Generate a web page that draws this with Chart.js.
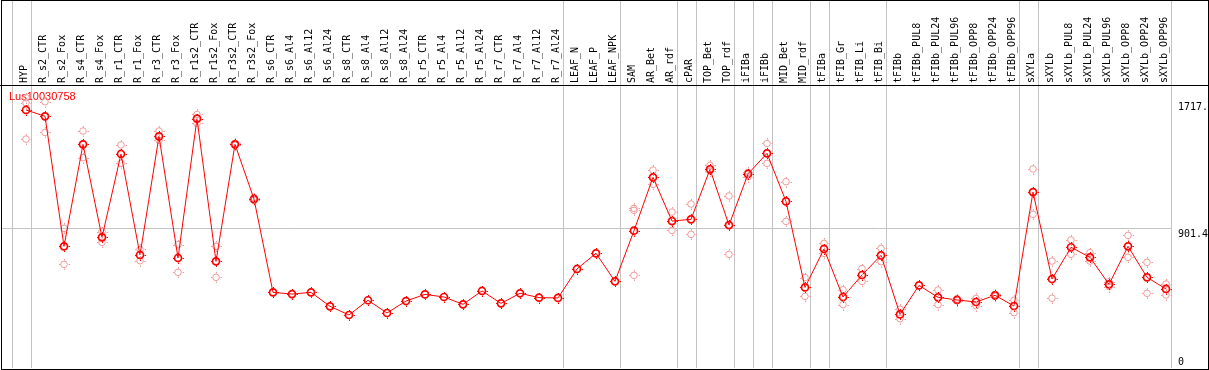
<!DOCTYPE html>
<html>
<head>
<meta charset="utf-8">
<script src="https://cdn.jsdelivr.net/npm/chart.js@4.4.1/dist/chart.umd.min.js"></script>
<style>
  html, body { margin: 0; padding: 0; background: #fff; }
</style>
</head>
<body>
<canvas id="grafico" width="1209" height="370"></canvas>
<script>
const categorias = [
  'HYP', 'R_s2_CTR', 'R_s2_Fox', 'R_s4_CTR', 'R_s4_Fox', 'R_r1_CTR', 'R_r1_Fox', 'R_r3_CTR', 'R_r3_Fox',
  'R_r1s2_CTR', 'R_r1s2_Fox', 'R_r3s2_CTR', 'R_r3s2_Fox', 'R_s6_CTR', 'R_s6_Al4', 'R_s6_Al12', 'R_s6_Al24',
  'R_s8_CTR', 'R_s8_Al4', 'R_s8_Al12', 'R_s8_Al24', 'R_r5_CTR', 'R_r5_Al4', 'R_r5_Al12', 'R_r5_Al24',
  'R_r7_CTR', 'R_r7_Al4', 'R_r7_Al12', 'R_r7_Al24', 'LEAF_N', 'LEAF_P', 'LEAF_NPK', 'SAM', 'AR_Bet', 'AR_rdf',
  'cPAR', 'TOP_Bet', 'TOP_rdf', 'iFIBa', 'iFIBb', 'MID_Bet', 'MID_rdf', 'tFIBa', 'tFIB_Gr', 'tFIB_Li', 'tFIB_Bi',
  'tFIBb', 'tFIBb_PUL8', 'tFIBb_PUL24', 'tFIBb_PUL96', 'tFIBb_OPP8', 'tFIBb_OPP24', 'tFIBb_OPP96',
  'sXYLa', 'sXYLb', 'sXYLb_PUL8', 'sXYLb_PUL24', 'sXYLb_PUL96', 'sXYLb_OPP8', 'sXYLb_OPP24', 'sXYLb_OPP96'
];

// media por muestra
const valores = [
  1665, 1624, 785, 1443, 843, 1381, 729, 1495, 710,
  1609, 688, 1443, 1090, 488, 477, 488, 398,
  342, 437, 355, 432, 475, 458, 411, 497,
  417, 482, 454, 452, 639, 740, 559, 886, 1230, 948,
  959, 1282, 922, 1252, 1385, 1075, 520, 768, 458, 600, 727,
  346, 533, 456, 439, 426, 469, 400,
  1135, 574, 779, 714, 540, 785, 585, 510
];

// replicas
const replica1 = [
  1744, 1718, 901, 1529, 880, 1439, 765, 1529, 796,
  1636, 785, 1450, 1100, null, null, null, null,
  null, null, null, null, null, null, null, null,
  null, null, null, null, null, null, null, 1030, 1277, 1006,
  1058, 1307, 1110, 1262, 1449, 1202, 583, 804, 505, 641, 772,
  379, null, 503, 445, 449, 475, 437,
  1284, 690, 826, 744, 557, 856, 682, 542
];
const replica2 = [
  1477, 1520, 669, 1357, 811, 1320, 692, 1469, 617,
  1578, 585, 1437, 1082, null, null, null, null,
  null, null, null, null, null, null, null, null,
  null, null, null, null, null, null, null, 598, 1185, 888,
  862, 1271, 733, 1234, 1320, 946, 462, 740, 409, 559, 686,
  318, null, 409, 435, 402, 462, 357,
  991, 450, 733, 690, 525, 714, 482, 471
];
const replica3 = [
  1710, null, null, null, null, null, null, null, null,
  null, null, null, null, null, null, null, null,
  null, null, null, null, null, null, null, null,
  null, null, null, null, null, null, null, 1017, null, null,
  null, null, null, null, null, null, null, null, null, null, null,
  null, null, null, null, null, null, null,
  null, null, null, null, null, null, null, null
];

const ticksY = [0, 901.4, 1717];
const etiquetasY = ['0', '901.4', '1717.'];
// indices tras los que va una linea separadora
const cortes = [-1, 0, 28, 31, 34, 35, 37, 38, 39, 41, 42, 45, 52, 53, 60];
const nombreSerie = 'Lus10030758';

const sinPadding = (s) => {
  s.paddingLeft = 0; s.paddingRight = 0; s.paddingTop = 0; s.paddingBottom = 0;
};

const marco = {
  id: 'marco',
  beforeDatasetsDraw(chart) {
    const ctx = chart.ctx;
    const x = chart.scales.x;
    const area = chart.chartArea;
    ctx.save();
    ctx.strokeStyle = '#c4c4c4';
    ctx.lineWidth = 1;
    cortes.forEach(i => {
      const px = Math.round(x.getPixelForValue(i + 0.25)) + 0.5;
      ctx.beginPath();
      ctx.moveTo(px, 0);
      ctx.lineTo(px, area.bottom);
      ctx.stroke();
    });
    ctx.fillStyle = '#ff0000';
    ctx.font = '11px "Liberation Sans", Arial, sans-serif';
    ctx.textBaseline = 'middle';
    ctx.fillText(nombreSerie, 9, area.top + 12);
    ctx.restore();
  },
  afterDatasetsDraw(chart) {
    // pequenas marcas alrededor de cada circulo
    const ctx = chart.ctx;
    ctx.save();
    ctx.lineWidth = 1;
    for (let d = chart.data.datasets.length - 1; d >= 0; d--) {
      const ds = chart.data.datasets[d];
      const r = Math.round(ds.pointRadius + 0.5);
      ctx.strokeStyle = ds.pointBorderColor;
      chart.getDatasetMeta(d).data.forEach(p => {
        if (p.skip) return;
        const cx = Math.round(p.x) + 0.5;
        const cy = Math.round(p.y) + 0.5;
        ctx.beginPath();
        ctx.moveTo(cx, cy - r); ctx.lineTo(cx, cy - r - 1.5);
        ctx.moveTo(cx, cy + r); ctx.lineTo(cx, cy + r + 1.5);
        ctx.moveTo(cx - r, cy); ctx.lineTo(cx - r - 1.5, cy);
        ctx.moveTo(cx + r, cy); ctx.lineTo(cx + r + 1.5, cy);
        ctx.stroke();
      });
    }
    ctx.restore();
  },
  afterDraw(chart) {
    const ctx = chart.ctx;
    ctx.save();
    ctx.strokeStyle = '#000';
    ctx.lineWidth = 1;
    ctx.strokeRect(1.5, 0.5, chart.width - 2, chart.height - 1);
    ctx.beginPath();
    ctx.moveTo(0, chart.chartArea.top + 0.5);
    ctx.lineTo(chart.width, chart.chartArea.top + 0.5);
    ctx.stroke();
    ctx.restore();
  }
};

const etiquetas = categorias.map((c, i) => i);

function serieReplica(nombre, datos) {
  return {
    label: nombre,
    data: datos,
    showLine: false,
    pointStyle: 'circle',
    pointRadius: 3.3,
    pointBorderWidth: 1,
    pointBorderColor: '#f09a9a',
    pointBackgroundColor: 'rgba(0,0,0,0)'
  };
}

new Chart(document.getElementById('grafico').getContext('2d'), {
  type: 'line',
  data: {
    labels: etiquetas,
    datasets: [
      {
        label: nombreSerie,
        data: valores,
        borderColor: '#ff0000',
        borderWidth: 1,
        pointStyle: 'circle',
        pointRadius: 3.5,
        pointBorderWidth: 1.7,
        pointBorderColor: '#ff0000',
        pointBackgroundColor: 'rgba(0,0,0,0)',
        tension: 0,
        fill: false
      },
      serieReplica('r1', replica1),
      serieReplica('r2', replica2),
      serieReplica('r3', replica3)
    ]
  },
  options: {
    responsive: false,
    animation: false,
    devicePixelRatio: 1,
    layout: { autoPadding: false, padding: { left: 1, right: 0, top: 0, bottom: 2 } },
    plugins: {
      legend: { display: false },
      tooltip: { enabled: false }
    },
    scales: {
      x: {
        type: 'linear',
        position: 'top',
        min: -1.3158,
        max: 60.263,
        afterBuildTicks: (s) => { s.ticks = etiquetas.map(v => ({ value: v })); },
        afterFit: (s) => { s.height = 85; sinPadding(s); },
        grid: { display: false, drawTicks: false },
        border: { display: false },
        ticks: {
          autoSkip: false,
          minRotation: 90,
          maxRotation: 90,
          padding: 2,
          labelOffset: 10.5,
          color: '#000',
          font: { family: '"DejaVu Sans Mono", monospace', size: 10 },
          callback: (v) => categorias[v]
        }
      },
      y: {
        position: 'right',
        min: 0,
        max: 1826,
        afterBuildTicks: (s) => { s.ticks = ticksY.map(v => ({ value: v })); },
        afterFit: (s) => { s.width = 38; sinPadding(s); },
        grid: {
          drawTicks: false,
          color: (c) => (c.tick && c.tick.value === 901.4) ? '#c4c4c4' : 'rgba(0,0,0,0)'
        },
        border: { display: false },
        ticks: {
          padding: 7,
          color: '#000',
          font: { family: '"DejaVu Sans Mono", monospace', size: 10 },
          callback: (v) => {
            const t = etiquetasY[ticksY.indexOf(v)];
            return v === 0 ? [t, ''] : ['', t];
          }
        }
      }
    }
  },
  plugins: [marco]
});
</script>
</body>
</html>
